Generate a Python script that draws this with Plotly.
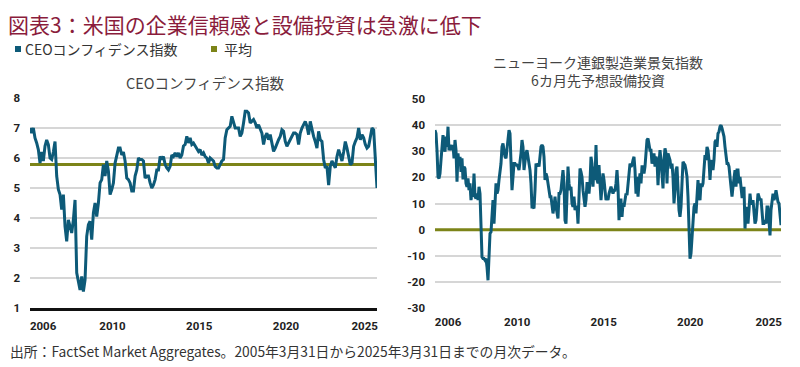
import pandas as pd
import plotly.graph_objects as go

# ---------------- data ----------------
START, END = "2005-03-31", "2025-03-31"

ceo_values = [
    7.0, 6.83, 7.0, 6.67, 6.5, 6.28, 5.83, 6.2, 5.9, 6.4, 6.6, 6.45, 6.0, 5.95, 6.2, 6.55,
    5.4, 4.95, 4.78, 4.28, 4.78, 3.72, 3.22, 3.94, 3.72, 3.5, 3.94, 4.6, 2.17, 1.83, 1.6,
    2.05, 1.55, 1.94, 3.39, 3.78, 3.89, 3.28, 4.17, 4.5, 4.05, 4.5, 5.17, 5.28, 5.78, 5.4,
    5.9, 5.56, 4.78, 4.95, 5.17, 5.83, 6.1, 6.33, 6.33, 6.1, 6.2, 5.9, 5.33, 5.28, 5.17,
    4.9, 4.9, 5.4, 5.6, 6.0, 5.95, 5.95, 5.9, 5.33, 5.4, 5.4, 5.17, 5.0, 5.1, 5.28, 5.6,
    5.6, 6.05, 5.95, 6.05, 5.78, 5.67, 5.6, 5.72, 6.1, 6.05, 6.17, 6.05, 6.17, 6.0, 6.1,
    6.4, 6.45, 6.72, 6.5, 6.67, 6.45, 6.5, 6.4, 6.33, 6.22, 6.28, 6.1, 6.17, 6.05, 6.0,
    5.83, 6.0, 5.95, 5.9, 5.72, 5.67, 5.67, 5.78, 5.9, 5.95, 6.67, 6.94, 7.0, 7.06, 7.39,
    7.17, 7.0, 7.0, 7.0, 6.72, 6.83, 7.17, 7.56, 7.56, 7.5, 7.17, 7.22, 7.28, 7.17, 7.0,
    7.11, 6.94, 6.83, 6.45, 6.72, 6.83, 6.61, 6.78, 6.5, 6.22, 6.33, 6.5, 6.61, 6.72, 6.94,
    6.89, 6.55, 6.39, 6.5, 6.61, 6.72, 6.83, 6.83, 6.78, 6.45, 6.83, 7.0, 7.11, 7.22, 7.06,
    6.78, 7.22, 6.94, 6.72, 6.55, 6.33, 6.89, 6.61, 6.55, 5.95, 5.67, 5.72, 5.1, 5.72, 5.9,
    5.78, 5.67, 6.05, 6.28, 6.1, 5.9, 6.2, 6.55, 6.33, 6.0, 5.78, 5.83, 6.39, 6.55, 6.67,
    7.0, 6.61, 6.78, 6.67, 6.45, 6.33, 6.39, 6.67, 7.0, 6.94, 5.95, 5.0,
]

ny_capex_values = [
    38.1, 36.8, 30.4, 20.2, 19.6, 21.5, 26.6, 31.7, 36.2, 31.7, 29.8, 35.6, 31.7, 39.4,
    30.4, 31.7, 32.4, 30.4, 32.4, 27.3, 34.3, 30.4, 18.3, 29.2, 24.7, 27.9, 22.1, 27.3,
    19.2, 24.1, 23.4, 17.7, 16.4, 19.6, 15.1, 17.7, 11.3, 13.8, 12.6, 21.5, 12.6, 11.9,
    13.8, 11.3, 16.4, 13.8, 2.3, -10.5, -11.1, -11.1, -11.7, -11.1, -14.3, -19.4, -10.5,
    -1.5, -0.9, 4.9, 11.3, 2.3, 8.7, 17.7, 13.8, 15.1, 19.0, 21.5, 25.3, 31.7, 33.0, 30.4,
    27.9, 27.3, 30.4, 33.0, 38.1, 36.8, 22.8, 15.1, 20.2, 25.3, 25.3, 24.7, 24.7, 24.1,
    22.8, 25.3, 29.2, 34.3, 31.7, 22.8, 26.6, 29.2, 30.4, 27.9, 25.3, 22.8, 17.7, 8.7,
    8.7, 8.1, 15.1, 25.3, 24.1, 25.3, 24.1, 27.9, 31.7, 32.4, 31.7, 27.9, 19.0, 21.5,
    20.2, 17.7, 15.1, 12.6, 12.6, 7.5, 6.2, 8.7, 12.6, 8.7, 6.2, 4.3, 13.8, 13.8, 15.1,
    20.2, 22.8, 17.7, 3.6, 2.3, 12.6, 24.1, 17.7, 15.1, 16.4, 10.0, 8.7, 12.6, 7.5, 8.7,
    8.7, 2.3, 12.6, 23.4, 22.1, 20.2, 15.1, 12.6, 8.7, 11.3, 17.7, 17.7, 13.8, 18.3, 27.9,
    25.3, 16.4, 24.1, 19.0, 32.4, 19.0, 17.7, 24.7, 17.7, 11.3, 16.4, 21.5, 19.0, 15.1,
    11.3, 12.6, 11.3, 13.8, 15.1, 16.4, 15.1, 13.8, 15.1, 15.1, 17.7, 22.8, 16.4, 3.6,
    11.3, 11.3, 4.9, 10.0, 8.7, 12.6, 13.8, 13.2, 17.7, 22.8, 25.3, 24.1, 24.7, 26.6,
    27.9, 22.8, 13.8, 20.2, 12.6, 17.7, 21.5, 17.7, 24.1, 24.1, 21.5, 24.1, 29.2, 34.3,
    34.9, 33.0, 30.4, 30.4, 25.3, 26.6, 29.2, 24.1, 27.9, 26.6, 17.0, 25.3, 30.4, 26.6,
    21.5, 15.8, 26.6, 31.1, 29.2, 17.7, 29.2, 27.9, 26.6, 23.4, 25.3, 20.2, 10.0, 15.1,
    22.8, 24.1, 15.1, 7.5, 4.9, 8.7, 17.7, 26.0, 25.3, 24.7, 22.8, 20.2, 12.6, -2.8, -11.1,
    -9.2, -2.8, 6.2, 8.7, 10.0, 6.2, 12.6, 19.0, 12.6, 11.3, 17.7, 16.4, 17.7, 22.8, 28.5,
    26.6, 31.7, 30.4, 26.6, 19.0, 25.3, 26.6, 22.8, 26.6, 33.6, 34.3, 31.7, 36.8, 37.5,
    39.4, 40.0, 38.8, 36.8, 35.6, 31.7, 29.2, 25.3, 25.3, 24.1, 20.2, 16.4, 12.6, 16.4,
    21.5, 22.8, 16.4, 22.8, 22.8, 17.7, 20.2, 16.4, 12.6, 12.6, 16.4, 0.4, 7.5, 8.7, 2.3,
    7.5, 13.8, 10.0, 10.0, 11.3, 6.2, 2.3, 3.6, 8.7, 13.8, 12.6, 11.3, 11.9, 7.5, 2.3, 2.3,
    3.6, 2.3, 8.7, 8.7, 2.3, -2.2, 7.5, 11.3, 13.8, 11.3, 12.6, 15.1, 12.6, 10.6, 10.0,
    4.9, 1.7,
]

ceo_mean = 5.78
ny_mean = 0.0

ceo_ticks = [1, 2, 3, 4, 5, 6, 7, 8]
ny_ticks = [-30, -20, -10, 0, 10, 20, 30, 40, 50]
ny_tick_labels = ["-30", "-20", "-10", "0", "10", "20", "30", "40", "50"]
year_tick_dates = ["2006-01-01", "2010-01-01", "2015-01-01", "2020-01-01", "2024-07-15"]
year_tick_labels = ["2006", "2010", "2015", "2020", "2025"]

title_text = "図表3：米国の企業信頼感と設備投資は急激に低下"
legend_ceo = "CEOコンフィデンス指数"
legend_mean = "平均"
left_title = "CEOコンフィデンス指数"
right_title = "ニューヨーク連銀製造業景気指数<br>6カ月先予想設備投資"
source_text = "出所：FactSet Market Aggregates。2005年3月31日から2025年3月31日までの月次データ。"

# ---------------- styling ----------------
# the page body adds an 8px margin, so the figure is drawn 8px smaller and
# all target pixel positions are shifted back by that offset
OFF = 8
W, H = 800 - OFF, 367 - OFF
BLUE = "#0d5a78"
OLIVE = "#7c8418"
GRID = "#d6d6d6"
CJK = "Noto Sans CJK JP"
NUM = "Liberation Sans Narrow, Roboto, sans-serif"

ceo_dates = pd.date_range(START, END, periods=len(ceo_values))
ny_dates = pd.date_range(START, END, periods=len(ny_capex_values))


def px_x(x):
    return (x - OFF) / W


def px_y(y):
    return 1 - (y - OFF) / H


fig = go.Figure()

# left panel
fig.add_trace(go.Scatter(x=[START, END], y=[ceo_mean, ceo_mean], mode="lines",
                         line=dict(color=OLIVE, width=3), xaxis="x", yaxis="y",
                         showlegend=False, hoverinfo="skip"))
fig.add_trace(go.Scatter(x=ceo_dates, y=ceo_values, mode="lines",
                         line=dict(color=BLUE, width=3), xaxis="x", yaxis="y",
                         showlegend=False))
# right panel
fig.add_trace(go.Scatter(x=[START, END], y=[ny_mean, ny_mean], mode="lines",
                         line=dict(color=OLIVE, width=3), xaxis="x2", yaxis="y2",
                         showlegend=False, hoverinfo="skip"))
fig.add_trace(go.Scatter(x=ny_dates, y=ny_capex_values, mode="lines",
                         line=dict(color=BLUE, width=3), xaxis="x2", yaxis="y2",
                         showlegend=False))

tickfont = dict(family=NUM, size=11.5, color="#222222", weight="bold")

xcommon = dict(type="date", range=[START, END], tickvals=year_tick_dates,
               ticktext=year_tick_labels, showgrid=False, zeroline=False,
               tickfont=tickfont, ticks="", ticklabelstandoff=5, automargin=False)
ycommon = dict(showgrid=True, gridcolor=GRID, gridwidth=1.5, zeroline=False,
               tickfont=tickfont, ticks="", ticklabelstandoff=9, automargin=False)

fig.update_layout(
    width=W, height=H,
    margin=dict(l=0, r=0, t=0, b=0, pad=0, autoexpand=False),
    paper_bgcolor="white", plot_bgcolor="white",
    showlegend=False,
    xaxis=dict(domain=[px_x(30), px_x(377)], anchor="y",
               showline=True, linecolor="#111111", linewidth=2.5, **xcommon),
    yaxis=dict(domain=[px_y(308), px_y(98)], anchor="x", range=[1, 8],
               tickvals=ceo_ticks, **ycommon),
    xaxis2=dict(domain=[px_x(435), px_x(781)], anchor="y2", showline=False, **xcommon),
    yaxis2=dict(domain=[px_y(308), px_y(99)], anchor="x2", range=[-30, 50],
                tickvals=ny_ticks, ticktext=ny_tick_labels, **ycommon),
)

# legend squares
for x0, col in ((15, BLUE), (211, OLIVE)):
    fig.add_shape(type="rect", xref="paper", yref="paper",
                  x0=px_x(x0), x1=px_x(x0 + 6), y0=px_y(52), y1=px_y(46),
                  fillcolor=col, line=dict(width=0))

anns = [
    dict(text=title_text, x=px_x(7), y=1, xanchor="left", yanchor="top", borderpad=0,
         font=dict(family=CJK, size=21, color="#8a1c3c")),
    dict(text=legend_ceo, x=px_x(24), y=px_y(49), xanchor="left", yanchor="middle",
         borderpad=0, font=dict(family=CJK, size=14, color="#333333")),
    dict(text=legend_mean, x=px_x(223), y=px_y(49), xanchor="left", yanchor="middle",
         borderpad=0, font=dict(family=CJK, size=14, color="#333333")),
    dict(text=left_title, x=px_x(205), y=px_y(82), xanchor="center", yanchor="middle",
         font=dict(family=CJK, size=14.5, color="#444444")),
    dict(text=right_title, x=px_x(598), y=px_y(71), xanchor="center", yanchor="middle",
         font=dict(family=CJK, size=14, color="#444444")),
    dict(text=source_text, x=px_x(8), y=px_y(351), xanchor="left", yanchor="middle",
         font=dict(family=CJK, size=13.8, color="#333333")),
]
for a in anns:
    fig.add_annotation(xref="paper", yref="paper", showarrow=False, **a)

fig.write_html("out.html")
